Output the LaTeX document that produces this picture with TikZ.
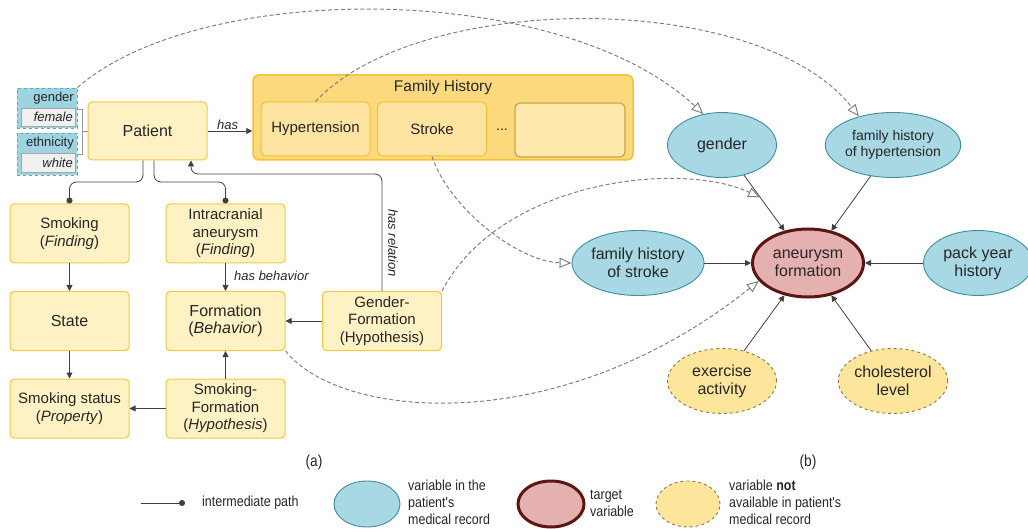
\documentclass[tikz,border=0pt]{standalone}
\usepackage{fontspec}
\setmainfont{Liberation Sans}
\newfontfamily\condf[FakeStretch=0.86]{Liberation Sans}
\usetikzlibrary{arrows.meta,shapes.geometric}
\definecolor{boxfill}{HTML}{FEF1C4}
\definecolor{boxline}{HTML}{F4C842}
\definecolor{fhfill}{HTML}{FDD97E}
\definecolor{fhline}{HTML}{F2C233}
\definecolor{infill}{HTML}{FCE3A0}
\definecolor{emfill}{HTML}{FEE9AC}
\definecolor{emline}{HTML}{C9A54A}
\definecolor{bluefill}{HTML}{A8D8E3}
\definecolor{blueline}{HTML}{3D8FA0}
\definecolor{gbfill}{HTML}{9ED3E2}
\definecolor{gbline}{HTML}{5AAAC4}
\definecolor{redfill}{HTML}{E5B1B0}
\definecolor{redline}{HTML}{5B1613}
\definecolor{yelfill}{HTML}{FDE59B}
\definecolor{yelline}{HTML}{8F7A3A}
\definecolor{txt}{HTML}{262626}
\definecolor{dashc}{HTML}{808080}
\definecolor{lnc}{HTML}{404040}
\tikzset{
  ybox/.style={draw=boxline, fill=boxfill, rounded corners=4pt, line width=1pt,
    align=center, font=\fontsize{15}{17.5}\selectfont, text=txt, inner sep=0pt,
    minimum width=119pt, minimum height=59pt},
  ibox/.style={draw=fhline, fill=infill, rounded corners=5pt, line width=1pt,
    align=center, font=\fontsize{15}{17.5}\selectfont, text=txt, inner sep=0pt,
    minimum width=109pt, minimum height=54pt},
  bell/.style={ellipse, draw=blueline, fill=bluefill, line width=0.9pt, align=center,
    inner sep=0pt, minimum width=109pt, minimum height=65pt, text=txt,
    font=\fontsize{16}{18}\selectfont},
  yell/.style={ellipse, draw=yelline, fill=yelfill, line width=0.9pt, dashed, align=center,
    inner sep=0pt, minimum width=109pt, minimum height=65pt, text=txt,
    font=\fontsize{16}{18}\selectfont},
  rell/.style={ellipse, draw=redline, fill=redfill, line width=3pt, align=center,
    inner sep=0pt, minimum width=111pt, minimum height=68pt, text=txt,
    font=\fontsize{16}{18}\selectfont},
  arr/.style={draw=lnc, line width=0.8pt, -{Triangle[length=6pt,width=6pt]}},
  ipath/.style={draw=lnc, line width=0.8pt, rounded corners=7pt, -{Circle[length=6pt]}},
  darr/.style={draw=dashc, line width=1pt, dash pattern=on 4pt off 2.5pt,
    -{Triangle[open,length=12pt,width=10pt,line width=1pt]}},
  lab/.style={font=\fontsize{13}{15}\selectfont\itshape, text=txt, inner sep=1pt},
  leg/.style={font=\condf\fontsize{14.5}{17}\selectfont, text=txt, align=left, anchor=west, inner sep=0pt},
}
\begin{document}
\begin{tikzpicture}[x=1pt,y=-1pt]
\useasboundingbox (0,0) rectangle (1028,529);
% ---------- gender / ethnicity record boxes
\node[draw=gbline, fill=gbfill, dashed, line width=0.9pt, minimum width=60pt, minimum height=40pt, inner sep=0pt] (gb) at (47,108) {};
\node[draw=gray!70, fill=gray!12, minimum width=54pt, minimum height=18pt, inner sep=0pt] (gbv) at (48,117) {};
\node[anchor=east, font=\fontsize{13}{14}\selectfont, text=txt, inner sep=0pt] at (74,98) {gender};
\node[anchor=east, font=\fontsize{13}{14}\selectfont\itshape, text=txt, inner sep=0pt] at (73,117) {female};
\node[draw=gbline, fill=gbfill, dashed, line width=0.9pt, minimum width=60pt, minimum height=42pt, inner sep=0pt] (eb) at (47,154) {};
\node[draw=gray!70, fill=gray!12, minimum width=54pt, minimum height=19pt, inner sep=0pt] (ebv) at (48,162.5) {};
\node[anchor=east, font=\fontsize{13}{14}\selectfont, text=txt, inner sep=0pt] at (74,143) {ethnicity};
\node[anchor=east, font=\fontsize{13}{14}\selectfont\itshape, text=txt, inner sep=0pt] at (73,162.5) {white};
% ---------- Patient and family history
\node[ybox, minimum height=58pt] (pat) at (147.5,131) {\fontsize{16}{18}\selectfont Patient};
\draw[draw=gray!80, line width=0.8pt] (78,109) -- (82,109) -- (82,154) -- (78,154);
\coordinate (br) at (82,131);
\draw[draw=gray!80, line width=0.8pt] (br) -- (br -| pat.west);
\node[draw=fhline, fill=fhfill, rounded corners=6pt, line width=1.5pt, minimum width=380pt, minimum height=85pt, inner sep=0pt] (fh) at (443,117.5) {};
\node[font=\fontsize{15.5}{18}\selectfont, text=txt] at (443,87) {Family History};
\node[ibox] (hyp) at (315.5,129) {Hypertension};
\node[ibox] (str) at (432,129) {Stroke};
\node[font=\fontsize{14}{17}\selectfont, text=txt] (dots) at (502,130) {...};
\node[draw=emline, fill=emfill, rounded corners=5pt, line width=1.2pt, minimum width=110pt, minimum height=54pt, inner sep=0pt] (emp) at (570,130) {};
\draw[arr] (pat.east) -- node[lab, above, pos=0.45] {has} (pat.east -| fh.west);
% ---------- tree
\node[ybox] (smk) at (69.5,233.5) {Smoking\\(\textit{Finding})};
\node[ybox] (ica) at (225.5,233.5) {Intracranial\\aneurysm\\(\textit{Finding})};
\node[ybox] (sta) at (69.5,321) {\fontsize{16}{18}\selectfont State};
\node[ybox] (frm) at (225.5,321) {\fontsize{16}{18}\selectfont Formation\\\fontsize{16}{18}\selectfont(\textit{Behavior})};
\node[ybox] (gf) at (382,321) {Gender-\\Formation\\(Hypothesis)};
\node[ybox] (sst) at (69.5,408.5) {Smoking status\\(\textit{Property})};
\node[ybox] (sf) at (225.5,408.5) {Smoking-\\Formation\\(\textit{Hypothesis})};
\coordinate (ip1) at (143,182);
\coordinate (ip2) at (154,182);
\draw[ipath] (ip1 |- pat.south) -- (ip1) -| (smk.north);
\draw[ipath] (ip2 |- pat.south) -- (ip2) -| (ica.north);
\draw[arr] (smk) -- (sta);
\draw[arr] (sta) -- (sst);
\draw[arr] (ica) -- (frm);
\node[lab, anchor=west] at (233,276) {has behavior};
\draw[arr] (gf) -- (frm);
\draw[arr] (sf) -- (frm);
\draw[arr] (sf) -- (sst);
\coordinate (hrc) at (191,174);
\draw[arr, rounded corners=7pt] (gf.north) |- (hrc) -- (hrc |- pat.south);
\node[lab, rotate=-90] at (393,243) {has relation};
% ---------- Bayesian network
\node[bell] (gen) at (722,145) {gender};
\node[bell, font=\fontsize{14}{16.5}\selectfont] (fhh) at (893,145) {family history\\of hypertension};
\node[bell] (fhs) at (638,263) {family history\\of stroke};
\node[rell] (an) at (808,263) {aneurysm\\formation};
\node[bell] (pack) at (978,263) {pack year\\history};
\node[yell] (ex) at (722,381) {exercise\\activity};
\node[yell] (chol) at (893,381) {cholesterol\\level};
\draw[arr] (gen) -- coordinate[pos=0.4] (gm) (an);
\draw[arr] (fhh) -- (an);
\draw[arr] (fhs) -- (an);
\draw[arr] (pack) -- (an);
\draw[arr] (ex) -- (an);
\draw[arr] (chol) -- (an);
% ---------- dashed mapping arrows
\draw[darr] (gb.north east) .. controls (200,-20) and (560,-20) .. (gen.121);
\draw[darr] (hyp.north) .. controls (420,-10) and (760,-10) .. (fhh.140);
\draw[darr] (str.south) .. controls (450,210) and (520,262) .. (fhs.west);
\draw[darr] (gf.north east) .. controls (500,180) and (680,160) .. (gm);
\draw[darr] (frm.south east) .. controls (340,420) and (560,440) .. (an.200);
% ---------- captions
\node[font=\condf\fontsize{16}{18}\selectfont, text=txt] (ca) at (314,462) {(a)};
\node[font=\condf\fontsize{16}{18}\selectfont, text=txt] (cb) at (808,462) {(b)};
% ---------- legend
\coordinate (l1) at (141,503);
\coordinate (l2) at (185,503);
\draw[draw=lnc, line width=0.8pt, -{Circle[length=6pt]}] (l1) -- (l2);
\node[leg] (lt1) at (202,503) {intermediate path};
\node[bell, minimum width=66pt, minimum height=46pt] (lb) at (367,504) {};
\node[leg] (lt2) at (408,502) {variable in the\\patient's\\medical record};
\node[rell, minimum width=66pt, minimum height=46pt] (lr) at (551,504) {};
\node[leg] (lt3) at (590,503) {target\\variable};
\node[yell, minimum width=64pt, minimum height=46pt] (ly) at (688,504) {};
\node[leg] (lt4) at (729,502) {variable \textbf{not}\\available in patient's\\medical record};
\end{tikzpicture}
\end{document}
